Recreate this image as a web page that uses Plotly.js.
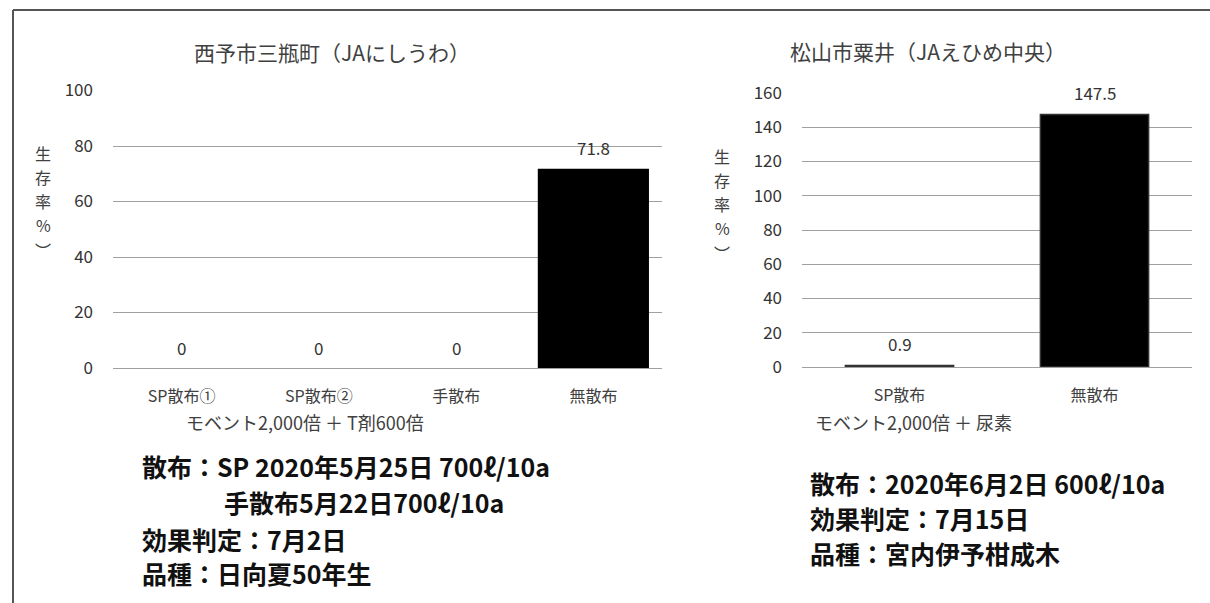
<!DOCTYPE html>
<html>
<head>
<meta charset="utf-8">
<script src="https://cdn.plot.ly/plotly-3.0.1.min.js"></script>
<style>html,body{margin:0;padding:0;background:#fff;}#chart{width:1210px;height:603px;}</style>
</head>
<body>
<div id="chart"></div>
<script>
// ---- data ----
const leftTitle = '西予市三瓶町（JAにしうわ）';
const leftCats = ['SP散布①', 'SP散布②', '手散布', '無散布'];
const leftVals = [0, 0, 0, 71.8];
const leftTicks = [0, 20, 40, 60, 80, 100];
const leftSub = 'モベント2,000倍 ＋ T剤600倍';

const rightTitle = '松山市粟井（JAえひめ中央）';
const rightCats = ['SP散布', '無散布'];
const rightVals = [0.9, 147.5];
const rightTicks = [0, 20, 40, 60, 80, 100, 120, 140, 160];
const rightSub = 'モベント2,000倍 ＋ 尿素';

const yLabelChars = ['生', '存', '率', '%', '︶'];

const leftNotes = ['散布：SP 2020年5月25日 700ℓ/10a', '手散布5月22日700ℓ/10a', '効果判定：7月2日', '品種：日向夏50年生'];
const rightNotes = ['散布：2020年6月2日 600ℓ/10a', '効果判定：7月15日', '品種：宮内伊予柑成木'];

// ---- helpers ----
const W = 1210, H = 603;
const px = x => x / W;
const py = y => (H - y) / H;
const FONT = '"Noto Sans CJK JP", "Noto Sans", sans-serif';

const traces = [
  {type: 'bar', x: leftCats, y: leftVals, xaxis: 'x', yaxis: 'y', width: 0.81,
   marker: {color: '#000', line: {width: 0}}, hoverinfo: 'none'},
  {type: 'bar', x: rightCats, y: rightVals, xaxis: 'x2', yaxis: 'y2', width: 0.555,
   marker: {color: '#000', line: {color: '#333', width: 1.5}}, hoverinfo: 'none'}
];

const annotations = [];
leftCats.forEach((c, i) => annotations.push({xref: 'x', yref: 'y', x: c, y: leftVals[i], text: String(leftVals[i]),
  showarrow: false, yanchor: 'middle', yshift: 21, font: {family: FONT, size: 17, color: '#333'}}));
rightCats.forEach((c, i) => annotations.push({xref: 'x2', yref: 'y2', x: c, y: rightVals[i], text: String(rightVals[i]),
  showarrow: false, yanchor: 'middle', yshift: 22, font: {family: FONT, size: 17, color: '#333'}}));

annotations.push({xref: 'paper', yref: 'paper', x: px(332), y: py(52), text: leftTitle, showarrow: false,
  xanchor: 'center', yanchor: 'middle', font: {family: FONT, size: 21, color: '#404040'}});
annotations.push({xref: 'paper', yref: 'paper', x: px(928), y: py(51), text: rightTitle, showarrow: false,
  xanchor: 'center', yanchor: 'middle', font: {family: FONT, size: 21, color: '#404040'}});

const yLabL = [153, 177, 201, 225, 250];
const yLabR = [156, 180, 204, 228, 253];
yLabelChars.forEach((ch, i) => {
  annotations.push({xref: 'paper', yref: 'paper', x: px(43), y: py(yLabL[i]), text: ch, showarrow: false,
    xanchor: 'center', yanchor: 'middle', font: {family: FONT, size: 16, color: '#404040'}});
  annotations.push({xref: 'paper', yref: 'paper', x: px(722), y: py(yLabR[i]), text: ch, showarrow: false,
    xanchor: 'center', yanchor: 'middle', font: {family: FONT, size: 16, color: '#404040'}});
});

annotations.push({xref: 'paper', yref: 'paper', x: px(305), y: py(422), text: leftSub, showarrow: false,
  xanchor: 'center', yanchor: 'middle', font: {family: FONT, size: 18, color: '#404040'}});
annotations.push({xref: 'paper', yref: 'paper', x: px(913), y: py(422), text: rightSub, showarrow: false,
  xanchor: 'center', yanchor: 'middle', font: {family: FONT, size: 18, color: '#404040'}});

const leftNoteY = [466, 502, 539, 573];
const leftNoteX = [140, 222, 140, 140];
leftNotes.forEach((t, i) => annotations.push({xref: 'paper', yref: 'paper', x: px(leftNoteX[i]), y: py(leftNoteY[i]), text: '<b>' + t + '</b>',
  showarrow: false, xanchor: 'left', yanchor: 'middle', font: {family: FONT, size: 25, color: '#111'}}));
const rightNoteY = [483, 518, 553];
rightNotes.forEach((t, i) => annotations.push({xref: 'paper', yref: 'paper', x: px(808), y: py(rightNoteY[i]), text: '<b>' + t + '</b>',
  showarrow: false, xanchor: 'left', yanchor: 'middle', font: {family: FONT, size: 25, color: '#111'}}));

const axisY = (ticks, dom, anchor) => ({domain: dom, anchor: anchor, range: [0, ticks[ticks.length - 1]], tickvals: ticks, ticktext: ticks.map(String),
  showgrid: true, gridcolor: '#a0a0a0', gridwidth: 1, zeroline: true, zerolinecolor: '#a0a0a0', zerolinewidth: 1,
  showline: false, ticks: '', ticklabelstandoff: 19, tickfont: {family: FONT, size: 17, color: '#333'}, fixedrange: true});
const axisX = (dom, anchor) => ({domain: dom, anchor: anchor, showgrid: false, zeroline: false, showline: false, ticks: '',
  ticklabelstandoff: 17, tickfont: {family: FONT, size: 16, color: '#404040'}, fixedrange: true});

const layout = {
  width: W, height: H,
  margin: {l: 0, r: 0, t: 0, b: 0},
  paper_bgcolor: '#fff', plot_bgcolor: 'rgba(0,0,0,0)',
  showlegend: false,
  xaxis: axisX([px(113), px(662)], 'y'),
  yaxis: axisY(leftTicks, [py(368), py(90.5)], 'x'),
  xaxis2: axisX([px(802), px(1192)], 'y2'),
  yaxis2: axisY(rightTicks, [py(367), py(93)], 'x2'),
  annotations: annotations,
  shapes: [
    {type: 'line', xref: 'paper', yref: 'paper', x0: px(13), x1: px(13), y0: py(10), y1: py(603), line: {color: '#555', width: 2}},
    {type: 'line', xref: 'paper', yref: 'paper', x0: px(13), x1: px(1210), y0: py(10), y1: py(10), line: {color: '#555', width: 2}}
  ]
};

Plotly.newPlot('chart', traces, layout, {staticPlot: true, displayModeBar: false});
</script>
</body>
</html>
